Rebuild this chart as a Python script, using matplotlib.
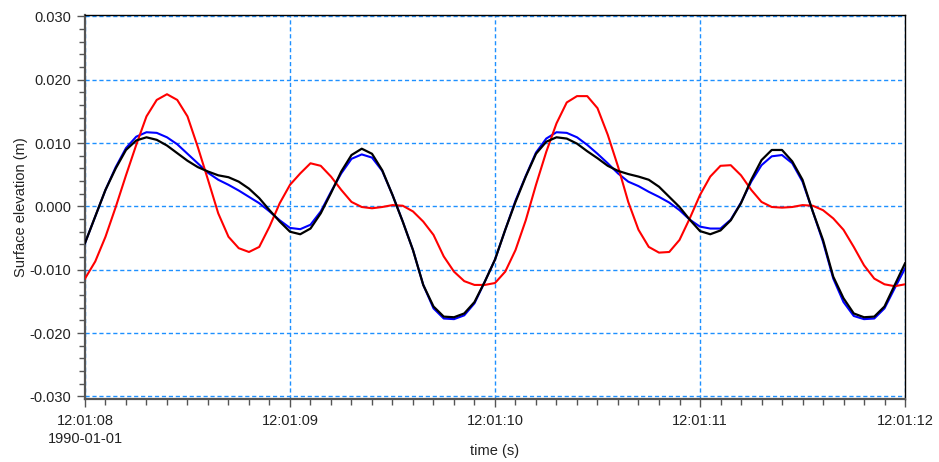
import numpy as np
import matplotlib
matplotlib.use("Agg")
import matplotlib.pyplot as plt
from matplotlib.ticker import MultipleLocator, FixedLocator, FixedFormatter, FuncFormatter

plt.rcParams['font.family'] = ['Liberation Sans', 'DejaVu Sans']

# seconds after 12:01:08, sampled every 0.05 s
t = np.arange(81) * 0.05

# surface elevation (m) for the three gauges
elev_blue = [
    -0.0058, -0.0016, 0.0026, 0.0062, 0.0092, 0.0110, 0.0117, 0.0116, 0.0109, 0.0098,
    0.0083, 0.0068, 0.0053, 0.0042, 0.0034, 0.0025, 0.0015, 0.0005, -0.0008, -0.0022,
    -0.0034, -0.0036, -0.0029, -0.0008, 0.0023, 0.0052, 0.0075, 0.0082, 0.0077, 0.0056,
    0.0018, -0.0024, -0.0069, -0.0124, -0.0161, -0.0177, -0.0178, -0.0172, -0.0153, -0.0119,
    -0.0084, -0.0037, 0.0009, 0.0048, 0.0085, 0.0107, 0.0117, 0.0116, 0.0109, 0.0097,
    0.0083, 0.0068, 0.0052, 0.0039, 0.0032, 0.0023, 0.0015, 0.0006, -0.0006, -0.0021,
    -0.0032, -0.0035, -0.0035, -0.0021, 0.0006, 0.0039, 0.0065, 0.0079, 0.0081, 0.0068,
    0.0039, -0.0008, -0.0056, -0.0114, -0.0151, -0.0173, -0.0178, -0.0177, -0.0161, -0.0129,
    -0.0098,
]
elev_red = [
    -0.0114, -0.0087, -0.0048, -0.0001, 0.0049, 0.0097, 0.0142, 0.0168, 0.0177, 0.0168,
    0.0142, 0.0094, 0.0042, -0.0011, -0.0048, -0.0066, -0.0072, -0.0064, -0.0032, 0.0005,
    0.0034, 0.0052, 0.0068, 0.0064, 0.0047, 0.0026, 0.0007, -0.0001, -0.0003, -0.0001,
    0.0002, 0.0001, -0.0008, -0.0024, -0.0045, -0.0079, -0.0103, -0.0118, -0.0124, -0.0124,
    -0.0121, -0.0103, -0.0069, -0.0022, 0.0034, 0.0086, 0.0131, 0.0164, 0.0174, 0.0174,
    0.0155, 0.0113, 0.0063, 0.0007, -0.0037, -0.0064, -0.0073, -0.0072, -0.0053, -0.0019,
    0.0018, 0.0047, 0.0064, 0.0065, 0.0049, 0.0026, 0.0007, -0.0001, -0.0002, -0.0001,
    0.0002, 0.0001, -0.0006, -0.0019, -0.0037, -0.0064, -0.0093, -0.0114, -0.0123, -0.0126,
    -0.0123,
]
elev_black = [
    -0.0058, -0.0016, 0.0026, 0.0060, 0.0089, 0.0104, 0.0109, 0.0105, 0.0096, 0.0084,
    0.0072, 0.0062, 0.0055, 0.0049, 0.0046, 0.0039, 0.0028, 0.0013, -0.0006, -0.0024,
    -0.0040, -0.0044, -0.0035, -0.0011, 0.0021, 0.0055, 0.0081, 0.0091, 0.0083, 0.0057,
    0.0018, -0.0024, -0.0069, -0.0124, -0.0158, -0.0174, -0.0175, -0.0169, -0.0151, -0.0119,
    -0.0084, -0.0037, 0.0007, 0.0047, 0.0083, 0.0102, 0.0109, 0.0107, 0.0099, 0.0087,
    0.0076, 0.0064, 0.0056, 0.0051, 0.0047, 0.0042, 0.0031, 0.0015, -0.0001, -0.0021,
    -0.0039, -0.0044, -0.0038, -0.0022, 0.0005, 0.0042, 0.0073, 0.0089, 0.0089, 0.0071,
    0.0042, -0.0008, -0.0053, -0.0111, -0.0145, -0.0169, -0.0175, -0.0174, -0.0158, -0.0124,
    -0.0090,
]

x_ticks = [0, 1, 2, 3, 4]
x_tick_labels = ["12:01:08\n1990-01-01", "12:01:09", "12:01:10", "12:01:11", "12:01:12"]

fig = plt.figure(figsize=(9.39, 4.62), dpi=100)
ax = fig.add_axes([0.0905, 0.1364, 0.8733, 0.8311])

ax.plot(t, elev_blue, color="#0000ff", lw=1.5, zorder=3)
ax.plot(t, elev_red, color="#ff0000", lw=1.5, zorder=4)
ax.plot(t, elev_black, color="#000000", lw=1.6, zorder=5)

ax.set_xlim(0, 4)
ax.set_ylim(-0.0304, 0.0302)

ax.xaxis.set_major_locator(FixedLocator(x_ticks))
ax.xaxis.set_major_formatter(FixedFormatter(x_tick_labels))
ax.xaxis.set_minor_locator(MultipleLocator(0.1))
ax.yaxis.set_major_locator(MultipleLocator(0.01))
ax.yaxis.set_major_formatter(FuncFormatter(lambda v, p: f"{v:.3f}"))
ax.yaxis.set_minor_locator(MultipleLocator(0.002))

ax.grid(True, which="major", color="#1e90ff", linestyle=(0, (3, 2)), lw=1)
ax.set_axisbelow(True)

for side in ("left", "bottom"):
    ax.spines[side].set_color("#555555")
    ax.spines[side].set_linewidth(1.6)
for side in ("top", "right"):
    ax.spines[side].set_color("black")
    ax.spines[side].set_linewidth(1.0)

ax.tick_params(which="major", direction="out", length=6, width=1, color="#555555",
               labelsize=10.5, labelcolor="#222222")
ax.tick_params(which="minor", direction="out", length=4, width=1, color="#555555")
ax.tick_params(axis="y", pad=4)
ax.tick_params(axis="x", pad=5)
for lbl in ax.get_xticklabels():
    lbl.set_linespacing(1.3)

ax.set_xlabel("time (s)", fontsize=10.5, color="#222222")
ax.xaxis.set_label_coords(0.5, -0.118)
ax.set_ylabel("Surface elevation (m)", fontsize=10.5, color="#222222")
ax.yaxis.set_label_coords(-0.0695, 0.5)

fig.savefig("out.png", dpi=100)
